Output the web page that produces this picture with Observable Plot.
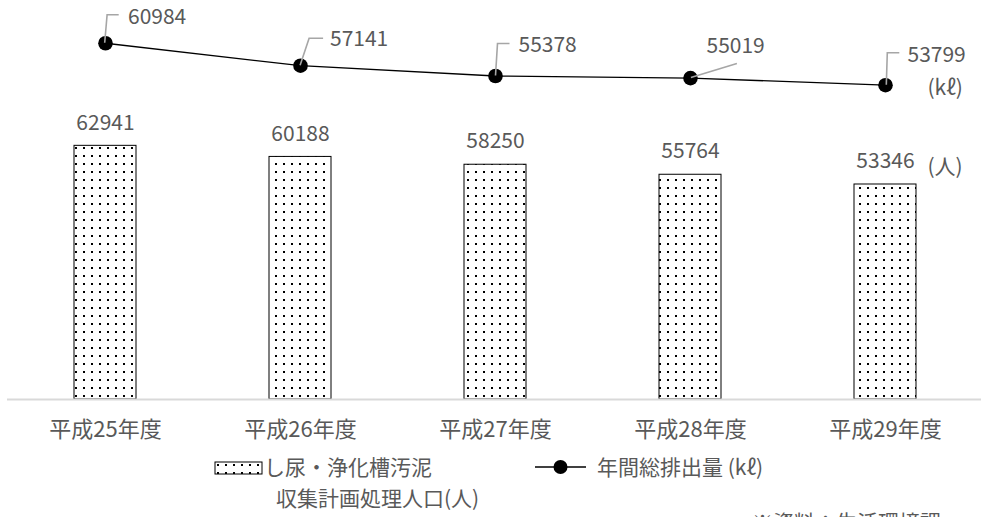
<!DOCTYPE html>
<html>
<head>
<meta charset="utf-8">
<script src="https://cdn.jsdelivr.net/npm/d3@7"></script>
<script src="https://cdn.jsdelivr.net/npm/@observablehq/plot@0.6"></script>
<style>
  html, body { margin: 0; padding: 0; background: #fff; overflow: hidden; }
  body { width: 981px; height: 517px; position: relative; font-family: "Noto Sans CJK JP", "Noto Sans", sans-serif; color: #595959; }
  #chart { position: absolute; left: 0; top: 0; }
  .lg { position: absolute; font-size: 21px; line-height: 1; white-space: nowrap; color: #595959; }
</style>
</head>
<body>
<div id="chart"></div>
<svg class="lg" style="left:214px;top:461px" width="50" height="14">
  <defs>
    <pattern id="dotsLeg" patternUnits="userSpaceOnUse" width="8" height="8">
      <rect width="8" height="8" fill="#fff"></rect>
      <rect x="3" y="3" width="2" height="2" fill="#000"></rect>
    </pattern>
  </defs>
  <rect x="1" y="1" width="47" height="12" fill="url(#dotsLeg)" stroke="#000" stroke-width="1"></rect>
</svg>
<div class="lg" id="lg1" style="left:264px;top:456px"></div>
<div class="lg" id="lg1b" style="left:276px;top:487px"></div>
<svg class="lg" style="left:534px;top:457px" width="54" height="20">
  <line x1="1" y1="10" x2="52" y2="10" stroke="#000" stroke-width="1.5"></line>
  <circle cx="26.5" cy="10" r="7" fill="#000"></circle>
</svg>
<div class="lg" id="lg2" style="left:597px;top:456px"></div>
<div class="lg" id="foot" style="left:752px;top:511px"></div>
<script>
// ---- data ----
const years = ["平成25年度", "平成26年度", "平成27年度", "平成28年度", "平成29年度"];
const population = [62941, 60188, 58250, 55764, 53346];   // 人 (bars)
const discharge = [60984, 57141, 55378, 55019, 53799];    // kℓ (line)
const barLegend = ["し尿・浄化槽汚泥", "収集計画処理人口(人)"];
const lineLegend = "年間総排出量 (kℓ)";
const unitBar = "(人)";
const unitLine = "(kℓ)";
const footnote = "※資料：生活環境課";

// axis extents (primary: 人, secondary: kℓ)
const yMax = 99000;
const y2Max = 68300;

const rows = years.map((year, i) => ({
  year,
  population: population[i],
  discharge: discharge[i],
  dischargeY: discharge[i] * yMax / y2Max
}));

// callout styling: pixel offsets from each line point
const callouts = [
  {ax: 2.4, ay: -28, bx: 14, by: -28, tx: 22.5, ty: -26},
  {ax: 9,   ay: -27, bx: 23, by: -27, tx: 29.5, ty: -26},
  {ax: 2,   ay: -32, bx: 14, by: -32, tx: 23,   ty: -31},
  {ax: 46,  ay: -14, bx: 46, by: -14, tx: 16,   ty: -31.5},
  {ax: 1,   ay: -32, bx: 13, by: -32, tx: 22,   ty: -30}
];

const textColor = "#595959";
const font = "'Noto Sans CJK JP', 'Noto Sans', sans-serif";

const chart = Plot.plot({
  width: 981,
  height: 440,
  marginLeft: 7,
  marginRight: -3,
  marginTop: 0,
  marginBottom: 41,
  style: {fontFamily: font, fontSize: "21px", background: "#fff", overflow: "visible"},
  x: {domain: years, paddingInner: 0.68, paddingOuter: 0.34, axis: null},
  y: {domain: [0, yMax], axis: null},
  marks: [
    Plot.barY(rows, {x: "year", y: "population", fill: "url(#dots10)", stroke: "#000", strokeWidth: 1}),
    Plot.ruleY([0], {stroke: "#d9d9d9", strokeWidth: 2}),
    Plot.text(rows, {x: "year", y: "population", text: d => String(d.population), dy: -23, lineAnchor: "middle", fill: textColor, fontSize: 21}),
    Plot.text(rows, {x: "year", y: 0, text: "year", dy: 30, lineAnchor: "middle", fill: textColor, fontSize: 22}),
    Plot.line(rows, {x: "year", y: "dischargeY", stroke: "#000", strokeWidth: 1.3}),
    Plot.dot(rows, {x: "year", y: "dischargeY", r: 7.3, fill: "#000", stroke: "none"}),
    ...rows.map((r, i) => Plot.text([r], {
      x: "year", y: "dischargeY", text: d => String(d.discharge),
      dx: callouts[i].tx, dy: callouts[i].ty, textAnchor: "start", lineAnchor: "middle",
      fill: textColor, fontSize: 21
    })),
    Plot.text([rows[rows.length - 1]], {x: "year", y: "population", text: () => unitBar, dx: 42, dy: -17, textAnchor: "start", lineAnchor: "middle", fill: textColor, fontSize: 21}),
    Plot.text([rows[rows.length - 1]], {x: "year", y: "dischargeY", text: () => unitLine, dx: 42, dy: 3, textAnchor: "start", lineAnchor: "middle", fill: textColor, fontSize: 21})
  ]
});

// dotted fill pattern
const svg = d3.select(chart);
const defs = svg.insert("defs", ":first-child");
const pat = defs.append("pattern").attr("id", "dots10").attr("patternUnits", "userSpaceOnUse")
  .attr("width", 8).attr("height", 8);
pat.append("rect").attr("width", 8).attr("height", 8).attr("fill", "#fff");
pat.append("rect").attr("x", 3).attr("y", 3).attr("width", 2).attr("height", 2).attr("fill", "#000");

// leader lines placed through the plot's own scales
const sx = chart.scale("x"), sy = chart.scale("y");
const bx = d3.scaleBand().domain(sx.domain).range(sx.range)
  .paddingInner(sx.paddingInner ?? 0.68).paddingOuter(sx.paddingOuter ?? 0.34).align(sx.align ?? 0.5);
const ly = d3.scaleLinear().domain(sy.domain).range(sy.range);
const g = svg.append("g").attr("fill", "none").attr("stroke", "#a6a6a6").attr("stroke-width", 1.6);
rows.forEach((r, i) => {
  const px = bx(r.year) + bx.bandwidth() / 2;
  const py = ly(r.dischargeY);
  const c = callouts[i];
  g.append("path").attr("d", `M${px},${py}L${px + c.ax},${py + c.ay}L${px + c.bx},${py + c.by}`);
});

document.getElementById("chart").appendChild(chart);
document.getElementById("lg1").textContent = barLegend[0];
document.getElementById("lg1b").textContent = barLegend[1];
document.getElementById("lg2").textContent = lineLegend;
document.getElementById("foot").textContent = footnote;
</script>
</body>
</html>
